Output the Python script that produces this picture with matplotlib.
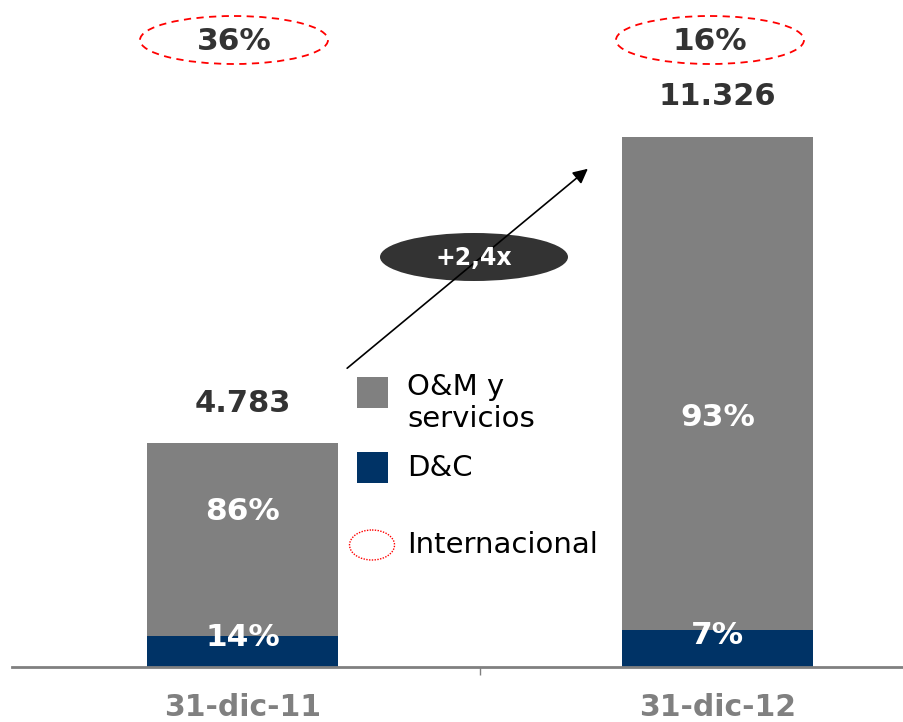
import matplotlib
matplotlib.use("Agg")
from matplotlib import pyplot as plt
from matplotlib.patches import Ellipse, Rectangle

categories = ['31-dic-11', '31-dic-12']
totals = [4783, 11326]
share_dc = [0.14, 0.07]
share_om = [0.86, 0.93]
total_labels = ['4.783', '11.326']
dc_labels = ['14%', '7%']
om_labels = ['86%', '93%']
intl_labels = ['36%', '16%']
growth_label = '+2,4x'

GRAY = '#808080'
NAVY = '#003366'
DARK = '#333333'

plt.rcParams['font.family'] = ['DejaVu Sans']

fig = plt.figure(figsize=(9.04, 7.22), dpi=100)
W, H = 904, 722
base_px = 667
ax = fig.add_axes([12 / W, (H - base_px) / H, (W - 12) / W, base_px / H])

x = [0, 1]
dc = [t * s for t, s in zip(totals, share_dc)]
om = [t * s for t, s in zip(totals, share_om)]
ax.bar(x, dc, width=0.402, color=NAVY)
ax.bar(x, om, bottom=dc, width=0.402, color=GRAY)

ax.set_xlim(-0.4853, 1.3926)
ax.set_ylim(0, 14243)
for s in ['top', 'right', 'left']:
    ax.spines[s].set_visible(False)
ax.spines['bottom'].set_color(GRAY)
ax.spines['bottom'].set_linewidth(2)
ax.set_yticks([])
ax.set_xticks([0.5])
ax.set_xticklabels([''])
ax.tick_params(axis='x', direction='out', length=6, width=1, color=GRAY)

# overlay in pixel coords for labels and decorations
ov = fig.add_axes([0, 0, 1, 1])
ov.set_xlim(0, W)
ov.set_ylim(H, 0)
ov.axis('off')
ov.patch.set_alpha(0)

centers = [242.5, 717.5]
om_y = [512, 418]
dc_y = [638, 636]
for i in range(2):
    cx = centers[i]
    ov.text(cx, 708, categories[i], ha='center', va='center', fontsize=21.5,
            fontweight='bold', color=GRAY)
    top_px = base_px - totals[i] * base_px / 14243
    ov.text(cx, top_px - 40, total_labels[i], ha='center', va='center',
            fontsize=22, fontweight='bold', color=DARK)
    ov.text(cx, om_y[i], om_labels[i], ha='center', va='center', fontsize=22.5,
            fontweight='bold', color='white')
    ov.text(cx, dc_y[i], dc_labels[i], ha='center', va='center', fontsize=22.5,
            fontweight='bold', color='white')

# international ellipses
for cx, lab in zip([234, 710], intl_labels):
    ov.add_patch(Ellipse((cx, 40), 188, 48, fill=False, edgecolor='red',
                         linestyle=(0, (4, 3)), linewidth=1.3))
    ov.text(cx, 41, lab, ha='center', va='center', fontsize=22.5,
            fontweight='bold', color=DARK)

# growth arrow
ov.annotate('', xy=(590, 167), xytext=(345, 370),
            arrowprops=dict(arrowstyle='-|>', color='black', lw=1.2,
                            mutation_scale=22))
ov.add_patch(Ellipse((474, 257), 188, 48, facecolor=DARK, edgecolor='none'))
ov.text(474, 258, growth_label, ha='center', va='center', fontsize=17,
        fontweight='bold', color='white')

# legend
ov.add_patch(Rectangle((357, 377), 31, 31, facecolor=GRAY, edgecolor='none'))
ov.text(407, 403, 'O&M y\nservicios', ha='left', va='center', fontsize=21,
        color='black', linespacing=1.2)
ov.add_patch(Rectangle((357, 452), 31, 31, facecolor=NAVY, edgecolor='none'))
ov.text(407, 468, 'D&C', ha='left', va='center', fontsize=21, color='black')
ov.add_patch(Ellipse((372, 545), 45, 30, fill=False, edgecolor='red',
                     linestyle=(0, (1, 1)), linewidth=1))
ov.text(407, 545, 'Internacional', ha='left', va='center', fontsize=21,
        color='black')

fig.savefig('out.png', dpi=100)
